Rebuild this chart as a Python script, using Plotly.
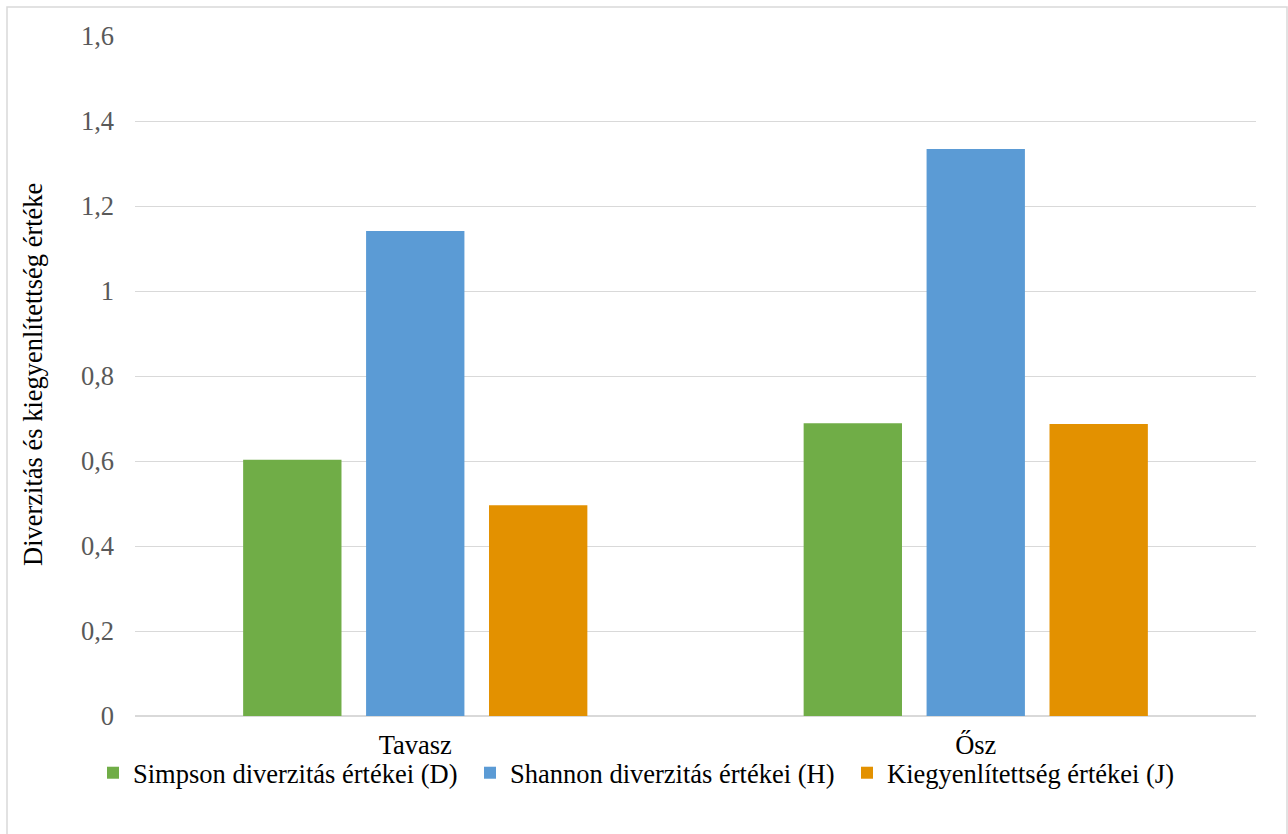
import plotly.graph_objects as go

categories = ["Tavasz", "Ősz"]
simpson = [0.603, 0.689]
shannon = [1.141, 1.334]
kiegy = [0.496, 0.687]
series_names = ["Simpson diverzitás értékei (D)", "Shannon diverzitás értékei (H)", "Kiegyenlítettség értékei (J)"]
colors = ["#70AD47", "#5B9BD5", "#E39100"]
y_ticks = [0, 0.2, 0.4, 0.6, 0.8, 1.0, 1.2, 1.4, 1.6]
y_tick_labels = ["0", "0,2", "0,4", "0,6", "0,8", "1", "1,2", "1,4", "1,6"]
y_title = "Diverzitás és kiegyenlítettség értéke"

FONT = "Liberation Serif, Times New Roman, serif"
FS = 26.5

fig = go.Figure()
for name, vals, col in zip(series_names, [simpson, shannon, kiegy], colors):
    fig.add_trace(go.Bar(x=categories, y=vals, name=name, marker=dict(color=col, line=dict(width=0))))

L, R, T, B = 135, 32, 36, 118
W, H = 1288, 834
pw = W - L - R
ph = H - T - B

def px(x):
    return (x - L) / pw

def py(y):
    return (H - B - y) / ph

fig.update_layout(
    width=W, height=H,
    margin=dict(l=L, r=R, t=T, b=B),
    paper_bgcolor="white", plot_bgcolor="white",
    barmode="group", bargap=0.342, bargroupgap=0.2,
    font=dict(family=FONT, size=FS, color="black"),
    showlegend=True,
    legend=dict(orientation="h", x=px(93), xanchor="left", y=py(773), yanchor="middle",
                font=dict(family=FONT, size=FS, color="black"), bgcolor="rgba(0,0,0,0)",
                itemsizing="constant", entrywidth=332, entrywidthmode="pixels"),
    xaxis=dict(showgrid=False, showline=False, ticks="", tickfont=dict(family=FONT, size=FS, color="black"),
               ticklabelstandoff=10, fixedrange=True),
    yaxis=dict(range=[0, 1.6], tickvals=y_ticks, ticktext=y_tick_labels, showgrid=True,
               gridcolor="#D9D9D9", gridwidth=1.3, zeroline=True, zerolinecolor="#D9D9D9", zerolinewidth=1.5,
               showline=False, ticks="", tickfont=dict(family=FONT, size=FS, color="#595959"),
               ticklabelstandoff=20, fixedrange=True),
    shapes=[dict(type="rect", xref="paper", yref="paper", x0=px(7), x1=px(1287), y0=py(845), y1=py(7),
                 line=dict(color="#D9D9D9", width=1.5), fillcolor="rgba(0,0,0,0)", layer="below")],
    annotations=[dict(text=y_title, textangle=-90, xref="paper", yref="paper", x=px(33), y=py(375),
                      xanchor="center", yanchor="middle", showarrow=False,
                      font=dict(family=FONT, size=FS, color="black"))],
)

fig.write_html("out.html", config={"displayModeBar": False},
               post_script="document.body.style.margin='0';document.body.style.overflow='hidden';")
